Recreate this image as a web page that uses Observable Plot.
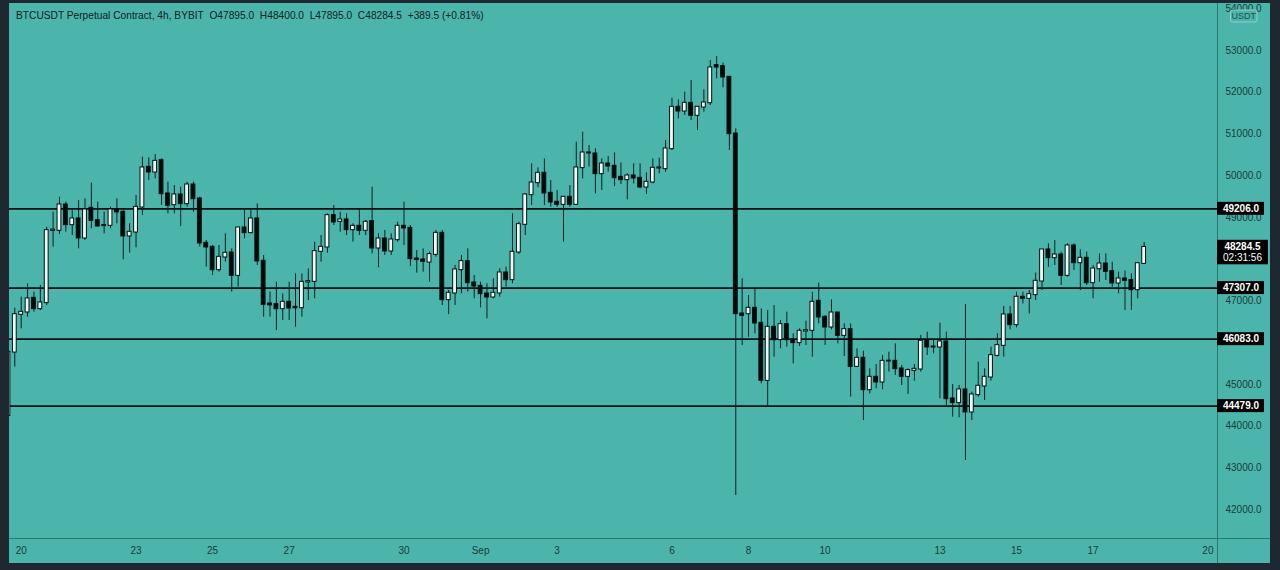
<!DOCTYPE html>
<html>
<head>
<meta charset="utf-8">
<script src="https://cdn.jsdelivr.net/npm/d3@7"></script>
<script src="https://cdn.jsdelivr.net/npm/@observablehq/plot@0.6"></script>
<style>
  html, body { margin: 0; padding: 0; background: #1e2830; width: 1280px; height: 570px; overflow: hidden; }
  #panel { position: absolute; left: 9px; top: 3px; width: 1261px; height: 560px; background: #4cb5ab; overflow: hidden; }
  #title { position: absolute; left: 7px; top: 7px; font: 10.2px "Liberation Sans", Arial, sans-serif; color: #10211f; white-space: pre; }
  #chart { position: absolute; left: 0; top: 0; }
</style>
</head>
<body>
<div id="panel">
  <div id="chart"></div>
  <div id="title"></div>
</div>
<script>
// ---- data (4h candles, BTCUSDT perpetual, BYBIT) ----
const firstCandle = "2021-08-19T16:00:00Z";
const candleHours = 4;
const opens = [44250,45771,46675,46731,47066,46810,46955,48687,48687,49302,48823,48967,48504,49223,48927,48800,48807,49183,49127,48552,
  48647,49246,50205,50085,50364,49566,49302,49542,49326,49781,49446,48384,48288,47745,48048,48152,47609,48751,48632,48967,
  47952,46930,46914,46810,46970,46850,46834,47450,47465,48184,48288,49046,48902,48943,48703,48791,48687,48903,48264,48487,
  48192,48463,48791,48743,48008,47985,47928,48112,48623,47026,47186,47745,47945,47433,47353,47170,47090,47186,47673,47505,
  48168,48831,49542,49829,50061,49582,49366,49310,49486,49310,50189,50548,50524,50045,50284,50228,49965,49901,49997,49941,
  49725,49845,50181,50165,50644,51642,51546,51738,51443,51642,51746,52640,52617,52361,51003,46690,46690,46826,46467,45093,
  46371,46067,46435,46067,45996,46275,46291,46994,46610,46371,46714,46171,46315,45428,45628,44869,45173,45053,45556,45556,
  45373,45189,45333,45365,46036,45892,45892,46020,44654,44559,44870,44335,44750,44958,45173,45692,45932,46667,46427,47090,
  47058,47146,47473,48224,48032,48104,47609,48320,47912,48024,47433,47768,47888,47704,47425,47529,47489,47265,47895];
const highs = [45850,46826,47090,47410,47210,47370,48767,49127,49486,49366,49160,49406,49446,49822,49366,49127,49246,49446,49166,48847,
  49526,50444,50428,50508,50404,49845,49765,49725,49845,49845,49486,48448,48328,48328,48608,48248,48751,49166,49166,49326,
  48088,47210,47450,47170,47450,47649,47649,47768,48408,48567,49086,49286,49126,49086,48847,49206,48927,49725,48607,48687,
  48607,48887,49366,48807,48208,48248,48168,48687,48687,47250,47849,48088,48248,47609,47449,47410,47529,47769,47809,49086,
  48887,49566,50285,50189,50404,49885,49645,49486,49765,50804,51043,50724,50644,50404,50460,50548,50308,50045,50284,50284,
  50069,50404,50420,50844,51858,51818,52002,52281,51658,52058,52760,52856,52696,52377,51123,47529,47130,47290,46810,46770,
  46890,46531,46730,46211,46331,46514,47210,47425,46650,47026,46714,46451,46451,45852,45796,45373,45476,45692,45772,45972,
  45453,45373,45477,46172,46252,46052,46467,46252,44998,44974,46914,44814,45533,45373,45892,46212,46867,46867,47210,47210,
  47250,47665,48224,48368,48447,48168,48368,48368,48224,48168,47848,48128,48128,47928,47689,47713,47649,47912,48400];
const lows = [44150,45412,46330,46610,46730,46770,46890,48288,48592,48647,48567,48248,48448,48727,48767,48607,48727,48847,47985,48144,
  48272,49047,49885,49925,49286,49087,49087,48783,49246,49126,48288,47809,47609,47689,47929,47210,47330,48488,48608,47848,
  46611,46611,46290,46530,46530,46371,46610,47010,47050,47928,48144,48807,48647,48567,48408,48567,48567,48128,47793,48088,
  48088,48408,48328,47824,47665,47689,47449,48048,46890,46675,46890,47170,47210,47050,46834,46570,47050,47090,47330,47410,
  48112,48567,49286,49710,49286,49246,49246,48408,49246,49286,49925,50205,49566,49645,50085,49741,49789,49422,49805,49685,
  49550,49805,50045,50085,50604,51363,51443,51323,51083,51523,51682,52321,52106,50604,42337,45932,46131,46211,45013,44454,
  45652,45852,45892,45492,45908,45932,45652,46451,45932,46307,45972,45668,44694,45412,44135,44773,44893,44869,45293,45213,
  44974,44758,45077,45293,45692,45732,44654,44471,44215,44199,43177,44135,44694,44614,45077,45652,45652,46307,46355,46930,
  46690,47010,47250,47808,47848,47369,47569,47729,47250,47369,47050,47449,47489,47329,47170,46770,46770,47050,47895];
const closes = [45771,46674,46730,47050,46810,46955,48687,48700,49302,48823,48967,48504,49183,48927,48791,48810,49183,49127,48552,48647,
  49246,50189,50085,50348,49566,49286,49542,49326,49781,49446,48384,48288,47745,48048,48144,47609,48751,48632,48967,47952,
  46914,46900,46810,46970,46826,46830,47449,47465,48184,48288,49046,48887,48943,48703,48791,48687,48887,48264,48487,48192,
  48463,48791,48743,48008,47985,47945,48112,48623,47026,47186,47745,47945,47433,47353,47170,47090,47186,47673,47505,48168,
  48831,49542,49829,50061,49582,49366,49310,49486,49310,50189,50548,50540,50045,50284,50228,49949,49901,49997,49941,49725,
  49845,50181,50190,50644,51642,51546,51738,51443,51642,51746,52585,52600,52361,51003,46690,46650,46826,46467,45093,46371,
  46067,46435,46067,45996,46275,46290,46970,46610,46371,46714,46171,46315,45428,45628,44869,45173,45053,45556,45560,45373,
  45189,45333,45365,46036,45892,45900,46020,44654,44559,44870,44335,44750,44958,45173,45692,45932,46667,46427,47090,47058,
  47154,47473,48224,48032,48104,47609,48320,47912,48024,47433,47768,47888,47704,47425,47529,47489,47265,47895,48284.5];

const levels = [49206, 47307, 46083, 44479];
const lastPrice = 48284.5;
const countdown = "02:31:56";
const quote = "USDT";
// price labels visible on the right scale (46000 and 48000 sit hidden under the price tags)
const priceTicks = [42000,43000,44000,45000,47000,49000,50000,51000,52000,53000,54000];
const dateTicks = ["2021-08-20","2021-08-23","2021-08-25","2021-08-27","2021-08-30","2021-09-01","2021-09-03","2021-09-06","2021-09-08","2021-09-10","2021-09-13","2021-09-15","2021-09-17","2021-09-20"];
const dateTickLabels = ["20","23","25","27","30","Sep","3","6","8","10","13","15","17","20"];
const titleText = "BTCUSDT Perpetual Contract, 4h, BYBIT\u00a0\u00a0O47895.0\u00a0\u00a0H48400.0\u00a0\u00a0L47895.0\u00a0\u00a0C48284.5\u00a0\u00a0+389.5 (+0.81%)";

// ---- build table ----
const H = 3600e3, DAY = 864e5;
const t0 = new Date(firstCandle).getTime();
const candles = opens.map((o, i) => ({
  t: new Date(t0 + i * candleHours * H),
  open: o, high: highs[i], low: lows[i], close: closes[i]
}));
const tickDates = dateTicks.map(s => new Date(s + "T00:00:00Z"));
const tickLabelMap = new Map(tickDates.map((d, i) => [+d, dateTickLabels[i]]));
const aug20 = tickDates[0].getTime();

const W = 1261, HGT = 560;
const halfBody = 1.2 * H;

const plot = Plot.plot({
  width: W, height: HGT,
  marginLeft: 0, marginRight: 53, marginTop: 0, marginBottom: 25,
  style: { background: "transparent", fontFamily: "'Liberation Sans', Arial, sans-serif", fontSize: "10px", color: "#183c39", overflow: "hidden" },
  x: {
    type: "utc",
    domain: [new Date(aug20 - 0.3054 * DAY), new Date(aug20 + 31.25 * DAY)],
    ticks: tickDates, tickFormat: d => tickLabelMap.get(+d), tickSize: 0, tickPadding: 8, label: null
  },
  y: {
    domain: [41307, 54126], axis: "right",
    ticks: priceTicks, tickFormat: d3.format(".1f"), tickSize: 0, tickPadding: 8, label: null
  },
  marks: [
    Plot.ruleY(levels, { stroke: "#061110", strokeWidth: 1.6 }),
    Plot.ruleX(candles, { x: "t", y1: "low", y2: "high", stroke: "#0c2220", strokeWidth: 1, clip: true }),
    Plot.rect(candles, {
      x1: d => new Date(+d.t - halfBody), x2: d => new Date(+d.t + halfBody),
      y1: "open", y2: "close",
      fill: d => d.close >= d.open ? "#eef8f6" : "#040807",
      stroke: "#061210", strokeWidth: 1, insetTop: -0.35, insetBottom: -0.35, clip: true
    })
  ]
});
document.getElementById("chart").appendChild(plot);
document.getElementById("title").textContent = titleText;

// ---- price-scale chrome drawn with the plot's scales ----
const ys = plot.scale("y");
const svg = d3.select(plot);
const axisX = W - 53;
const plotBottom = HGT - 25;
svg.append("line").attr("x1", axisX + 0.5).attr("x2", axisX + 0.5).attr("y1", 0).attr("y2", HGT)
  .attr("stroke", "#2a7770").attr("stroke-width", 1);
svg.append("line").attr("x1", 0).attr("x2", W).attr("y1", plotBottom + 0.5).attr("y2", plotBottom + 0.5)
  .attr("stroke", "#2a7770").attr("stroke-width", 1);

const tags = svg.append("g").attr("font-family", "'Liberation Sans', Arial, sans-serif").attr("font-size", 10).attr("font-weight", "bold");
levels.forEach(v => {
  const yy = ys.apply(v);
  tags.append("rect").attr("x", axisX).attr("y", yy - 6.5).attr("width", 47).attr("height", 13).attr("fill", "#000");
  tags.append("text").attr("x", axisX + 24).attr("y", yy).attr("dy", "0.35em").attr("text-anchor", "middle").attr("fill", "#fff").text(d3.format(".1f")(v));
});
{
  const yy = ys.apply(lastPrice);
  tags.append("rect").attr("x", axisX).attr("y", yy - 7).attr("width", 51).attr("height", 24.5).attr("fill", "#000");
  tags.append("text").attr("x", axisX + 25.5).attr("y", yy).attr("dy", "0.35em").attr("text-anchor", "middle").attr("fill", "#fff").text(d3.format(".1f")(lastPrice));
  tags.append("text").attr("x", axisX + 25.5).attr("y", yy + 11).attr("dy", "0.35em").attr("text-anchor", "middle").attr("fill", "#fff").attr("font-weight", "normal").text(countdown);
}
// quote-currency badge
const badge = svg.append("g");
badge.append("rect").attr("x", axisX + 13.5).attr("y", 7).attr("width", 26.5).attr("height", 12).attr("rx", 2)
  .attr("fill", "#4cb5ab").attr("stroke", "#8fd0c9").attr("stroke-width", 1);
badge.append("text").attr("x", axisX + 26.75).attr("y", 13).attr("dy", "0.35em").attr("text-anchor", "middle")
  .attr("font-family", "'Liberation Sans', Arial, sans-serif").attr("font-size", 9).attr("fill", "#23504c").text(quote);
</script>
</body>
</html>
